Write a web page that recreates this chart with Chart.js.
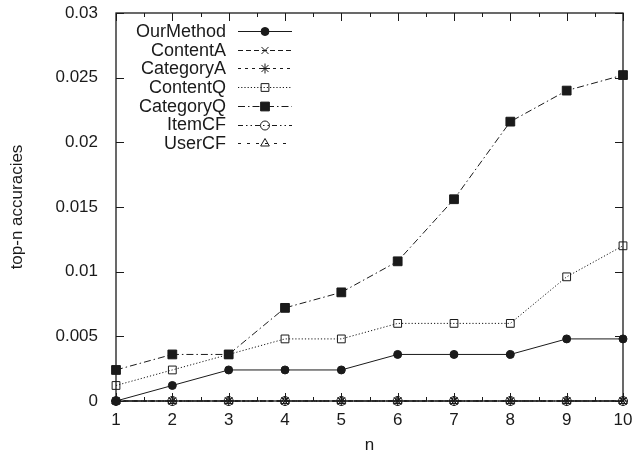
<!DOCTYPE html>
<html>
<head>
<meta charset="utf-8">
<script src="https://cdn.jsdelivr.net/npm/chart.js@4"></script>
<style>
html,body{margin:0;padding:0;background:#fff;}
#wrap{width:633px;height:458px;position:relative;}
</style>
</head>
<body>
<div id="wrap"><canvas id="c" width="633" height="458"></canvas></div>
<script>
const nValues = [1, 2, 3, 4, 5, 6, 7, 8, 9, 10];
const seriesNames = ["OurMethod", "ContentA", "CategoryA", "ContentQ", "CategoryQ", "ItemCF", "UserCF"];
const ourMethod = [0, 0.0012, 0.0024, 0.0024, 0.0024, 0.0036, 0.0036, 0.0036, 0.0048, 0.0048];
const contentA  = [0, 0, 0, 0, 0, 0, 0, 0, 0, 0];
const categoryA = [0, 0, 0, 0, 0, 0, 0, 0, 0, 0];
const contentQ  = [0.0012, 0.0024, 0.0036, 0.0048, 0.0048, 0.006, 0.006, 0.006, 0.0096, 0.0120];
const categoryQ = [0.0024, 0.0036, 0.0036, 0.0072, 0.0084, 0.0108, 0.0156, 0.0216, 0.0240, 0.0252];
const itemCF    = [0, 0, 0, 0, 0, 0, 0, 0, 0, 0];
const userCF    = [0, 0, 0, 0, 0, 0, 0, 0, 0, 0];
const yTicks = [0, 0.005, 0.01, 0.015, 0.02, 0.025, 0.03];
const yTickLabels = ["0", "0.005", "0.01", "0.015", "0.02", "0.025", "0.03"];
const xTitle = "n";
const yTitle = "top-n accuracies";

const allValues = [ourMethod, contentA, categoryA, contentQ, categoryQ, itemCF, userCF];
const ink = '#1a1a1a';
const styles = [
  {dash: [], pointStyle: 'circle', radius: 4, fill: true},
  {dash: [5, 3], pointStyle: 'crossRot', radius: 5, fill: false},
  {dash: [3, 4], pointStyle: 'star', radius: 5, fill: false},
  {dash: [1.2, 2], pointStyle: 'rect', radius: 5.5, fill: false},
  {dash: [7, 3, 1.5, 3], pointStyle: 'rect', radius: 6.2, fill: true},
  {dash: [5, 3, 1.5, 3, 1.5, 3], pointStyle: 'circle', radius: 4.5, fill: false},
  {dash: [3, 6], pointStyle: 'triangle', radius: 5, fill: false}
];

const datasets = seriesNames.map((name, i) => ({
  label: name,
  data: nValues.map((x, j) => ({x: x, y: allValues[i][j]})),
  borderColor: ink,
  backgroundColor: styles[i].fill ? ink : 'rgba(255,255,255,0)',
  borderWidth: 1,
  borderDash: styles[i].dash,
  pointStyle: styles[i].pointStyle,
  pointRadius: styles[i].radius,
  pointBorderWidth: 1,
  pointBackgroundColor: styles[i].fill ? ink : 'rgba(255,255,255,0)',
  pointBorderColor: ink,
  tension: 0,
  clip: false,
  order: 6 - i
}));

const frame = {
  id: 'frame',
  afterDatasetsDraw(chart) {
    const ctx = chart.ctx;
    const a = chart.chartArea;
    const xs = chart.scales.x, ys = chart.scales.y;
    ctx.save();
    ctx.strokeStyle = ink;
    ctx.lineWidth = 1.3;
    ctx.setLineDash([]);
    ctx.strokeRect(a.left, a.top, a.right - a.left, a.bottom - a.top);
    ctx.lineWidth = 1;
    ctx.beginPath();
    for (let v = 1; v <= 10.001; v += 0.5) {
      const px = Math.round(xs.getPixelForValue(v)) + 0.5;
      const len = Number.isInteger(v) ? 8 : 4;
      ctx.moveTo(px, a.bottom); ctx.lineTo(px, a.bottom - len);
      ctx.moveTo(px, a.top); ctx.lineTo(px, a.top + len);
    }
    yTicks.forEach(v => {
      const py = Math.round(ys.getPixelForValue(v)) + 0.5;
      ctx.moveTo(a.left, py); ctx.lineTo(a.left + 8, py);
      ctx.moveTo(a.right, py); ctx.lineTo(a.right - 8, py);
    });
    ctx.stroke();
    ctx.font = '18px "Liberation Sans", Arial, sans-serif';
    ctx.fillStyle = ink;
    ctx.textAlign = 'right';
    ctx.textBaseline = 'middle';
    chart.data.datasets.forEach((ds, i) => {
      const y = 31 + i * 18.7;
      ctx.fillText(ds.label, 226, y + 1);
      ctx.beginPath();
      ctx.setLineDash(ds.borderDash);
      ctx.lineWidth = 1;
      ctx.moveTo(238, Math.round(y) + 0.5);
      ctx.lineTo(292, Math.round(y) + 0.5);
      ctx.stroke();
      ctx.setLineDash([]);
      ctx.fillStyle = ds.pointBackgroundColor;
      ctx.strokeStyle = ink;
      Chart.helpers.drawPoint(ctx, {pointStyle: ds.pointStyle, radius: ds.pointRadius, borderWidth: 1}, 265, Math.round(y) + 0.5);
      ctx.fillStyle = ink;
    });
    ctx.restore();
  }
};

new Chart(document.getElementById('c'), {
  type: 'line',
  data: {datasets: datasets},
  options: {
    responsive: false,
    animation: false,
    devicePixelRatio: 1,
    layout: {padding: {top: 13, right: 10, left: 0, bottom: 0}},
    plugins: {legend: {display: false}, tooltip: {enabled: false}},
    scales: {
      x: {
        type: 'linear',
        min: 1, max: 10,
        afterFit(s) { s.height = 57; s.paddingLeft = 0; s.paddingRight = 0; },
        grid: {display: false, drawTicks: false},
        border: {display: false},
        ticks: {
          stepSize: 1, padding: 9, color: ink,
          font: {family: '"Liberation Sans", Arial, sans-serif', size: 17}
        },
        title: {
          display: true, text: xTitle, color: ink,
          font: {family: '"Liberation Sans", Arial, sans-serif', size: 17},
          padding: {top: 0, bottom: 2}
        }
      },
      y: {
        type: 'linear',
        min: 0, max: 0.03,
        afterFit(s) { s.width = 116; s.paddingTop = 0; s.paddingBottom = 0; },
        afterBuildTicks(s) { s.ticks = yTicks.map(v => ({value: v})); },
        grid: {display: false, drawTicks: false},
        border: {display: false},
        ticks: {
          padding: 18, color: ink,
          font: {family: '"Liberation Sans", Arial, sans-serif', size: 17},
          callback: (v) => { const k = yTicks.indexOf(v); return k >= 0 ? yTickLabels[k] : ''; }
        },
        title: {
          display: true, text: yTitle, color: ink,
          font: {family: '"Liberation Sans", Arial, sans-serif', size: 17},
          padding: {top: 7, bottom: 0}
        }
      }
    }
  },
  plugins: [frame]
});
</script>
</body>
</html>
